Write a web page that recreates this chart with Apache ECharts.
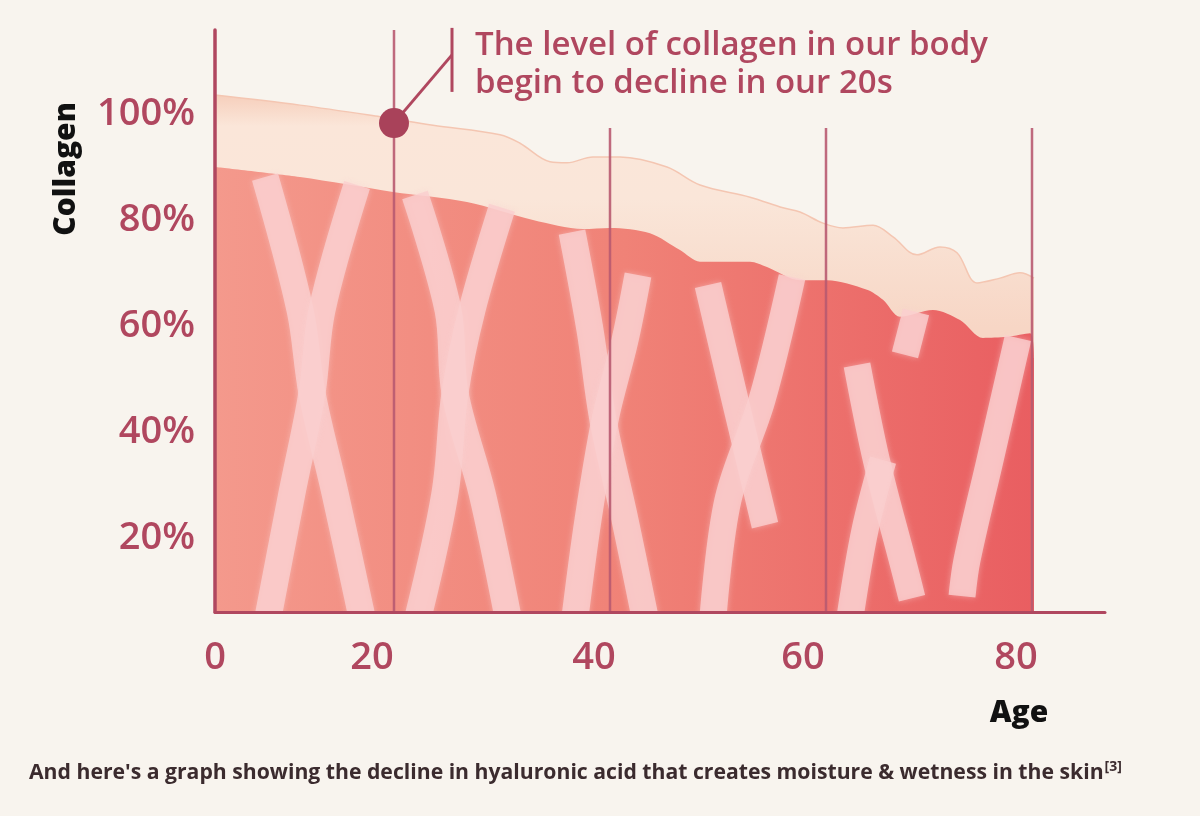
<!DOCTYPE html>
<html lang="en">

<head>
  <meta charset="UTF-8">
  <title>Collagen decline with age</title>
  <style>
    html, body {
      margin: 0;
      padding: 0;
      background: #f8f4ee;
    }
    #root {
      width: 1200px;
      height: 816px;
    }
  </style>
</head>

<body>
  <div id="root"></div>
</body>
<script src="https://cdn.jsdelivr.net/npm/echarts@6/dist/echarts.min.js"></script>
<script>
  // top edge of the collagen band (age, %)
  const collagenAges = [0, 8.5, 16.5, 21.8, 28.5, 30.5, 33.5, 35.2, 37.8, 40.5, 45.2, 48.5, 53.5, 56.8, 58.5, 60.8, 62.8, 65.8, 67.8, 70.2, 72.5, 74.2, 76.2, 78.5, 80.5, 81.9]
  const collagenLevel = [103.7, 101.8, 99.6, 98.0, 96.2, 94.6, 91.1, 90.9, 92.0, 92.0, 90.1, 86.7, 84.4, 82.4, 81.6, 79.5, 78.6, 79.1, 76.9, 73.5, 75.0, 73.9, 68.2, 69.1, 70.1, 69.1]

  // top edge of the skin (pink) area
  const skinAges = [0, 8.5, 17.8, 25.2, 31.8, 36.8, 39.5, 43.5, 46.5, 48.5, 53.5, 55.2, 58.5, 61.2, 65.2, 66.8, 68.5, 71.8, 74.5, 76.8, 79.2, 81.5, 81.9]
  const skinLevel = [90.1, 88.2, 85.4, 83.5, 80.1, 78.4, 78.6, 77.6, 74.4, 72.2, 72.2, 71.2, 68.7, 68.7, 66.9, 65.0, 61.8, 63.1, 61.2, 57.8, 58.0, 58.7, 54.0]

  // collagen fibres, each a list of [age, %]
  const fibers = [
    [[5.0, 88.2], [8.5, 63.1], [9.7, 47.4], [12.0, 28.5], [14.7, 5]],
    [[14.2, 86.7], [10.7, 63.1], [9.7, 47.4], [7.7, 28.5], [5.3, 5]],
    [[20.0, 84.8], [23.3, 63.1], [24.0, 47.4], [26.7, 28.5], [29.3, 5]],
    [[28.7, 82.4], [25.7, 63.1], [24.0, 47.4], [23.0, 28.5], [20.3, 5]],
    [[35.7, 77.8], [37.5, 59.3], [38.8, 42.3], [41.0, 23.4], [43.0, 5]],
    [[42.3, 69.7], [41.0, 57.4], [39.0, 42.3], [37.3, 23.4], [36.0, 5]],
    [[49.3, 67.8], [52.0, 46.1], [55.0, 22.4]],
    [[57.7, 69.3], [54.7, 46.1], [51.3, 27.2], [49.8, 5]],
    [[64.2, 52.7], [66.2, 34.2], [68.8, 15.3], [69.7, 8.6]],
    [[66.8, 34.7], [65.0, 21.5], [63.5, 5]],
    [[70.1, 62.7], [69.0, 54.6]],
    [[80.3, 57.8], [77.5, 34.7], [75.2, 15.8], [74.7, 9.0]]
  ]

  // vertical age markers and where they stop
  const markerAges = [17.9, 39.5, 61.1, 81.7]
  const markerTops = [116, 97.5, 97.5, 97.5]

  // the highlighted point and its callout
  const declinePoint = [17.9, 98.4]
  const calloutLeader = [[17.9, 98.4], [23.7, 111.3]]
  const calloutBar = [[23.7, 104.3], [23.7, 116.4]]

  // tick labels
  const pctTicks = [20, 40, 60, 80, 100]
  const ageTickText = ['0', '20', '40', '60', '80']
  const ageTickAt = [0, 15.7, 37.9, 58.8, 80.1]

  const wine = '#b0475f'
  const font = '"Open Sans", sans-serif'

  let myChart = echarts.init(document.getElementById('root'))

  let series = [
    {
      type: 'line',
      data: collagenAges.map((a, i) => [a, collagenLevel[i]]),
      smooth: 0.35,
      symbol: 'none',
      lineStyle: { width: 1.5, color: '#f4c6b2' },
      areaStyle: {
        origin: 'start',
        opacity: 1,
        color: new echarts.graphic.LinearGradient(0, 0, 0, 1, [
          { offset: 0, color: '#f6cfbc' },
          { offset: 0.06, color: '#fbe6d9' },
          { offset: 0.2, color: '#fae6d9' },
          { offset: 0.45, color: '#f7d6c5' },
          { offset: 1, color: '#f7d6c5' }
        ])
      },
      z: 1,
      silent: true
    },
    {
      type: 'line',
      data: skinAges.map((a, i) => [a, skinLevel[i]]),
      smooth: 0.3,
      symbol: 'none',
      lineStyle: { width: 0 },
      areaStyle: {
        origin: 'start',
        opacity: 1,
        color: new echarts.graphic.LinearGradient(0, 0, 1, 0, [
          { offset: 0, color: '#f4998c' },
          { offset: 0.5, color: '#f08277' },
          { offset: 1, color: '#e95e61' }
        ])
      },
      z: 2,
      silent: true
    },
    {
      type: 'custom',
      coordinateSystem: 'cartesian2d',
      data: fibers.map((f, i) => [i]),
      clip: true,
      silent: true,
      z: 3,
      renderItem: (params, api) => {
        const pts = fibers[params.dataIndex].map(p => api.coord(p))
        return {
          type: 'polyline',
          shape: { points: pts, smooth: 0.35 },
          style: {
            stroke: 'rgba(250, 206, 206, 0.82)',
            lineWidth: 27,
            fill: null,
            lineCap: 'butt',
            lineJoin: 'round',
            shadowBlur: 6,
            shadowColor: 'rgba(250, 210, 210, 0.6)'
          }
        }
      }
    },
    {
      type: 'lines',
      coordinateSystem: 'cartesian2d',
      polyline: true,
      clip: false,
      lineStyle: { color: '#b85a70', width: 2.5, opacity: 0.9 },
      data: markerAges.map((a, i) => ({ coords: [[a, 6], [a, markerTops[i]]] })),
      z: 5,
      silent: true
    },
    {
      type: 'lines',
      coordinateSystem: 'cartesian2d',
      polyline: true,
      clip: false,
      lineStyle: { color: wine, width: 3, opacity: 1 },
      data: [{ coords: calloutLeader }, { coords: calloutBar }],
      z: 6,
      silent: true
    },
    {
      type: 'scatter',
      data: [declinePoint],
      symbolSize: 30,
      itemStyle: { color: '#a9425a', opacity: 1 },
      z: 7,
      silent: true
    }
  ]

  let option = {
    backgroundColor: '#f8f4ee',
    animation: false,
    grid: { left: 215, right: 95, top: 30, bottom: 204 },
    xAxis: {
      type: 'value',
      min: 0,
      max: 89,
      z: 10,
      axisLine: { show: true, lineStyle: { color: wine, width: 3 } },
      axisTick: { show: false },
      splitLine: { show: false },
      axisLabel: {
        customValues: ageTickAt,
        formatter: v => {
          let best = 0
          ageTickAt.forEach((t, i) => { if (Math.abs(t - v) < Math.abs(ageTickAt[best] - v)) best = i })
          return ageTickText[best]
        },
        margin: 27,
        color: wine,
        fontFamily: font,
        fontSize: 38,
        fontWeight: 600
      }
    },
    yAxis: {
      type: 'value',
      min: 6,
      max: 116,
      z: 10,
      axisLine: { show: true, lineStyle: { color: wine, width: 3.5 } },
      axisTick: { show: false },
      splitLine: { show: false },
      axisLabel: {
        customValues: pctTicks,
        formatter: '{value}%',
        margin: 20,
        color: wine,
        fontFamily: font,
        fontSize: 38,
        fontWeight: 600
      }
    },
    graphic: [
      {
        type: 'text',
        left: 475,
        top: 27,
        style: {
          text: 'The level of collagen in our body\nbegin to decline in our 20s',
          fill: wine,
          font: '600 33px "Open Sans", sans-serif',
          lineHeight: 38
        }
      },
      {
        type: 'text',
        x: 66,
        y: 169,
        rotation: Math.PI / 2,
        style: {
          text: 'Collagen',
          fill: '#111',
          font: '800 30px "Open Sans", sans-serif',
          align: 'center',
          verticalAlign: 'middle'
        }
      },
      {
        type: 'text',
        x: 1019,
        y: 713,
        style: {
          text: 'Age',
          fill: '#111',
          font: '800 30px "Open Sans", sans-serif',
          align: 'center',
          verticalAlign: 'middle'
        }
      },
      {
        type: 'text',
        left: 29,
        top: 760,
        style: {
          text: '{m|And here\'s a graph showing the decline in hyaluronic acid that creates moisture & wetness in the skin}{s|[3]}',
          rich: {
            m: { fill: '#3b2b2e', font: '700 21.2px "Open Sans", sans-serif' },
            s: { fill: '#3b2b2e', font: '700 14px "Open Sans", sans-serif', verticalAlign: 'top', padding: [0, 0, 12, 1] }
          }
        }
      }
    ],
    series: series
  }

  myChart.setOption(option)
</script>

</html>
